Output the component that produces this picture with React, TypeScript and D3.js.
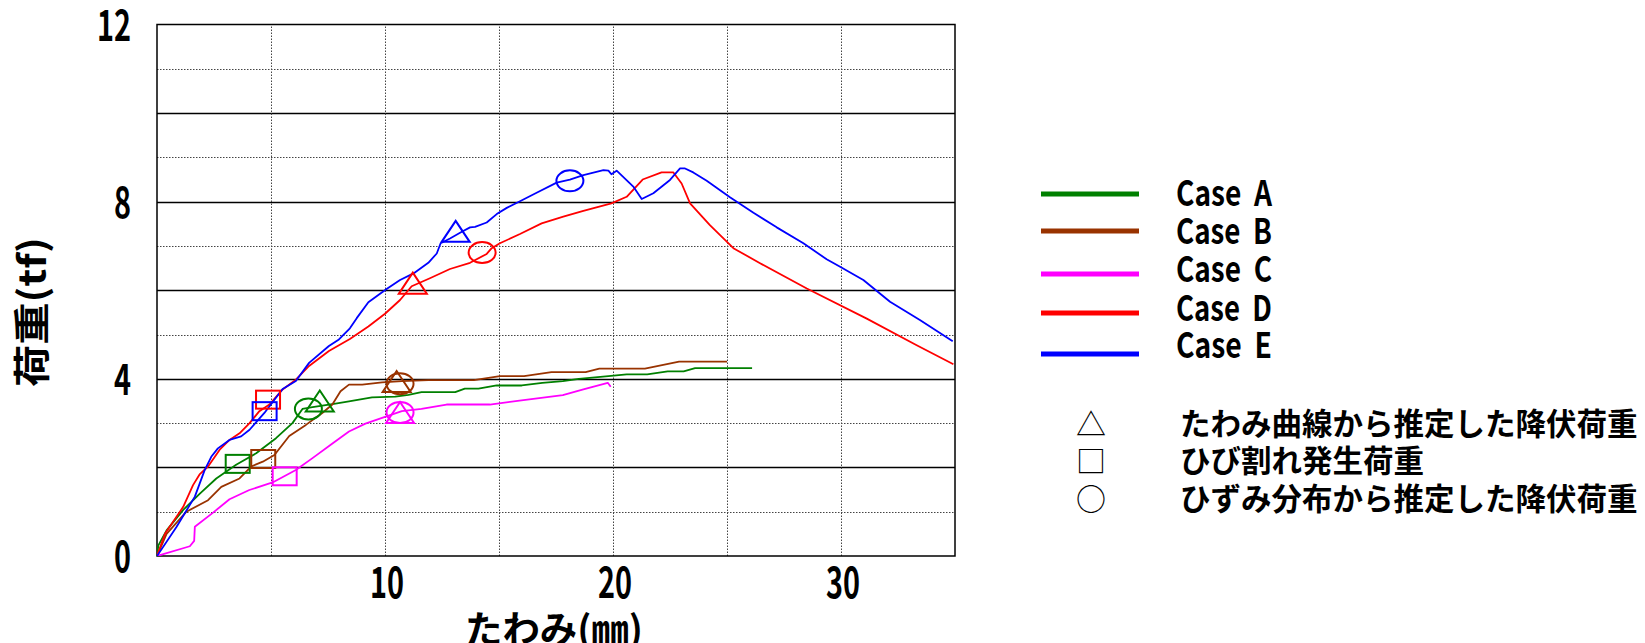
import * as d3 from "d3";
import React, { useEffect, useRef } from "react";

type Pt = [number, number];

// load-deflection curves, x = たわみ (mm), y = 荷重 (tf)
const caseA: Pt[] = [[0, 0], [0.06, 0.24], [0.42, 0.58], [1.15, 1.04], [1.88, 1.41], [2.6, 1.75], [3.47, 2.06], [4.35, 2.32], [5.22, 2.66], [5.94, 3.0], [6.38, 3.32], [6.82, 3.36], [7.83, 3.44], [8.42, 3.49], [9.43, 3.58], [10.45, 3.6], [11.03, 3.64], [11.6, 3.7], [13.08, 3.7], [13.5, 3.78], [14.1, 3.78], [14.9, 3.85], [16.0, 3.85], [16.9, 3.91], [17.8, 3.95], [18.5, 4.0], [19.8, 4.06], [20.6, 4.1], [21.5, 4.1], [22.4, 4.17], [23.1, 4.17], [23.6, 4.24], [26.1, 4.24]];
const caseB: Pt[] = [[0, 0], [0.42, 0.5], [1.29, 1.0], [2.24, 1.26], [2.82, 1.56], [3.62, 1.75], [4.13, 2.02], [4.64, 2.13], [5.15, 2.28], [5.8, 2.71], [6.53, 2.96], [7.25, 3.23], [7.69, 3.42], [8.05, 3.72], [8.42, 3.87], [9.0, 3.87], [9.87, 3.92], [10.74, 3.95], [11.9, 3.97], [13.9, 3.97], [15.04, 4.06], [16.1, 4.06], [17.3, 4.15], [18.8, 4.15], [19.4, 4.23], [21.4, 4.23], [22.9, 4.39], [25.0, 4.39]];
const caseC: Pt[] = [[0, 0], [1.44, 0.22], [1.63, 0.34], [1.66, 0.66], [2.46, 0.98], [3.18, 1.28], [4.05, 1.49], [5.07, 1.66], [6.09, 1.94], [6.82, 2.21], [7.62, 2.51], [8.42, 2.81], [9.14, 2.99], [10.0, 3.14], [10.74, 3.27], [11.6, 3.32], [12.7, 3.42], [14.6, 3.42], [15.9, 3.51], [17.8, 3.63], [18.7, 3.76], [19.77, 3.91], [19.9, 3.82]];
const caseD: Pt[] = [[0, 0], [0.35, 0.5], [1.15, 1.11], [1.58, 1.6], [1.88, 1.85], [2.24, 2.02], [2.75, 2.4], [3.18, 2.62], [3.62, 2.77], [4.06, 3.0], [4.49, 3.27], [4.93, 3.42], [5.51, 3.76], [6.09, 3.98], [6.67, 4.29], [7.54, 4.63], [8.46, 4.9], [9.27, 5.18], [10.0, 5.47], [10.66, 5.78], [11.17, 6.09], [11.97, 6.27], [12.85, 6.48], [13.73, 6.62], [14.46, 6.82], [14.68, 6.95], [15.04, 7.06], [15.92, 7.27], [16.87, 7.51], [17.82, 7.66], [18.7, 7.79], [19.93, 7.96], [20.6, 8.11], [21.3, 8.5], [22.13, 8.66], [22.65, 8.66], [23.01, 8.41], [23.38, 7.96], [24.25, 7.47], [25.28, 6.95], [26.45, 6.61], [28.5, 6.04], [31.13, 5.36], [33.32, 4.76], [34.93, 4.33]];
const caseE: Pt[] = [[0, 0], [0.86, 0.66], [1.66, 1.34], [2.09, 1.94], [2.38, 2.24], [2.67, 2.43], [3.18, 2.62], [3.69, 2.7], [4.06, 2.85], [4.71, 3.23], [5.51, 3.77], [6.09, 3.95], [6.67, 4.36], [7.54, 4.74], [7.98, 4.89], [8.46, 5.14], [8.76, 5.37], [9.27, 5.73], [10.07, 6.03], [10.66, 6.23], [11.25, 6.38], [11.9, 6.62], [12.27, 6.83], [12.44, 7.06], [12.85, 7.17], [13.37, 7.32], [13.73, 7.42], [13.95, 7.43], [14.46, 7.53], [14.9, 7.72], [15.34, 7.86], [15.92, 8.01], [16.65, 8.2], [17.53, 8.43], [18.11, 8.5], [18.7, 8.6], [19.58, 8.71], [19.8, 8.7], [19.93, 8.62], [20.16, 8.7], [20.89, 8.34], [21.26, 8.06], [21.77, 8.19], [22.5, 8.49], [22.94, 8.75], [23.16, 8.75], [23.52, 8.66], [24.11, 8.47], [25.13, 8.1], [26.16, 7.75], [27.18, 7.42], [28.35, 7.06], [29.37, 6.7], [29.96, 6.53], [30.98, 6.23], [32.15, 5.74], [33.46, 5.33], [34.9, 4.85]];

const caseNames = ["Case A", "Case B", "Case C", "Case D", "Case E"];
const caseColors = ["#008000", "#993300", "#ff00ff", "#ff0000", "#0000ff"];

// marker points, one per case (A..E)
const yieldByDeflection: Pt[] = [[7.14, 3.5], [10.51, 3.94], [10.66, 3.24], [11.22, 6.16], [13.1, 7.33]]; // △
const crackLoad: Pt[] = [[3.54, 2.08], [4.66, 2.19], [5.6, 1.8], [4.87, 3.53], [4.72, 3.27]]; // □
const yieldByStrain: Pt[] = [[6.64, 3.32], [10.66, 3.89], [10.66, 3.24], [14.26, 6.85], [18.11, 8.47]]; // ○

const xTicks = [10, 20, 30];
const yTicks = [0, 4, 8, 12];
const markerSymbols = ["△", "□", "○"];
const markerLabels = ["たわみ曲線から推定した降伏荷重", "ひび割れ発生荷重", "ひずみ分布から推定した降伏荷重"];

const FONT = "'Noto Sans CJK JP', sans-serif";

export default function App() {
  const ref = useRef<SVGSVGElement>(null);

  useEffect(() => {
    const svg = d3.select(ref.current);
    svg.selectAll("*").remove();

    const x = d3.scaleLinear().domain([0, 35]).range([157, 955]);
    const y = d3.scaleLinear().domain([0, 12]).range([556, 24.5]);

    svg.append("rect").attr("width", 1645).attr("height", 643).attr("fill", "#fff");

    // grid
    const g = svg.append("g");
    d3.range(1, 12).forEach(v => {
      g.append("line")
        .attr("x1", x(0)).attr("x2", x(35))
        .attr("y1", Math.round(y(v)) + 0.5).attr("y2", Math.round(y(v)) + 0.5)
        .attr("stroke", v % 2 ? "#444" : "#000")
        .attr("stroke-width", v % 2 ? 1 : 1.3)
        .attr("stroke-dasharray", v % 2 ? "1.5,1.5" : null);
    });
    d3.range(5, 35, 5).forEach(v => {
      g.append("line")
        .attr("x1", Math.round(x(v)) + 0.5).attr("x2", Math.round(x(v)) + 0.5)
        .attr("y1", y(0)).attr("y2", y(12))
        .attr("stroke", "#444").attr("stroke-width", 1)
        .attr("stroke-dasharray", "1.5,1.5");
    });
    g.append("rect")
      .attr("x", x(0)).attr("y", y(12))
      .attr("width", x(35) - x(0)).attr("height", y(0) - y(12))
      .attr("fill", "none").attr("stroke", "#000").attr("stroke-width", 1.5);

    // curves
    svg.append("clipPath").attr("id", "plot").append("rect")
      .attr("x", x(0)).attr("y", y(12)).attr("width", x(35) - x(0)).attr("height", y(0) - y(12));
    const line = d3.line<Pt>().x(d => x(d[0])).y(d => y(d[1]));
    const cases = [caseA, caseB, caseC, caseD, caseE];
    const curves = svg.append("g").attr("clip-path", "url(#plot)");
    cases.forEach((c, i) => {
      curves.append("path").datum(c)
        .attr("d", line)
        .attr("fill", "none")
        .attr("stroke", caseColors[i])
        .attr("stroke-width", 1.8)
        .attr("stroke-linejoin", "round");
    });

    // markers
    const mk = svg.append("g").attr("fill", "none").attr("stroke-width", 2);
    yieldByDeflection.forEach((d, i) => {
      const cx = x(d[0]), cy = y(d[1]), w = 28, h = 21;
      mk.append("path")
        .attr("d", `M${cx},${cy - h / 2}L${cx + w / 2},${cy + h / 2}L${cx - w / 2},${cy + h / 2}Z`)
        .attr("stroke", caseColors[i]);
    });
    crackLoad.forEach((d, i) => {
      const w = 24, h = 18;
      mk.append("rect")
        .attr("x", x(d[0]) - w / 2).attr("y", y(d[1]) - h / 2)
        .attr("width", w).attr("height", h)
        .attr("stroke", caseColors[i]);
    });
    yieldByStrain.forEach((d, i) => {
      mk.append("ellipse")
        .attr("cx", x(d[0])).attr("cy", y(d[1]))
        .attr("rx", 13.5).attr("ry", 10.5)
        .attr("stroke", caseColors[i]);
    });

    // tick labels
    const tl = svg.append("g").attr("font-family", FONT).attr("font-weight", "bold").attr("font-size", 43).attr("fill", "#000");
    yTicks.forEach(v => {
      const s = String(v);
      tl.append("text")
        .attr("x", 131).attr("y", y(v) + 16)
        .attr("text-anchor", "end")
        .attr("textLength", 17 * s.length).attr("lengthAdjust", "spacingAndGlyphs")
        .text(s);
    });
    xTicks.forEach(v => {
      const s = String(v);
      tl.append("text")
        .attr("x", x(v) + 2).attr("y", 598)
        .attr("text-anchor", "middle")
        .attr("textLength", 17 * s.length).attr("lengthAdjust", "spacingAndGlyphs")
        .text(s);
    });

    // axis titles
    svg.append("text")
      .attr("transform", "translate(33,312) rotate(-90)")
      .attr("text-anchor", "middle").attr("dy", "0.36em")
      .attr("font-family", FONT).attr("font-weight", "bold").attr("font-size", 37)
      .attr("textLength", 150).attr("lengthAdjust", "spacingAndGlyphs")
      .text("荷重(tf)");
    svg.append("text")
      .attr("x", 554).attr("y", 643)
      .attr("text-anchor", "middle")
      .attr("font-family", FONT).attr("font-weight", "bold").attr("font-size", 37)
      .attr("textLength", 178).attr("lengthAdjust", "spacingAndGlyphs")
      .text("たわみ(㎜)");

    // legend: cases
    const lineY = [194, 231, 274, 313, 354];
    const textY = [194, 232, 270, 309, 346];
    const lg = svg.append("g").attr("font-family", FONT).attr("font-weight", "bold");
    caseNames.forEach((n, i) => {
      lg.append("line")
        .attr("x1", 1041).attr("x2", 1139)
        .attr("y1", lineY[i]).attr("y2", lineY[i])
        .attr("stroke", caseColors[i]).attr("stroke-width", 5);
      lg.append("text")
        .attr("x", 1176).attr("y", textY[i] + 12)
        .attr("font-size", 35)
        .attr("textLength", 96).attr("lengthAdjust", "spacingAndGlyphs")
        .text(n.replace(" ", "\u00a0\u00a0"));
    });

    // legend: markers
    const rowY = [424, 461, 499];
    markerLabels.forEach((t, i) => {
      lg.append("text")
        .attr("x", 1091).attr("y", rowY[i]).attr("dy", "0.36em")
        .attr("text-anchor", "middle").attr("font-weight", "normal")
        .attr("font-size", 30)
        .text(markerSymbols[i]);
      lg.append("text")
        .attr("x", 1180).attr("y", rowY[i]).attr("dy", "0.36em")
        .attr("font-size", 30.5)
        .text(t);
    });
  }, []);

  return (
    <svg
      ref={ref}
      width={1645}
      height={643}
      style={{ position: "absolute", left: 0, top: 0, display: "block" }}
    />
  );
}
